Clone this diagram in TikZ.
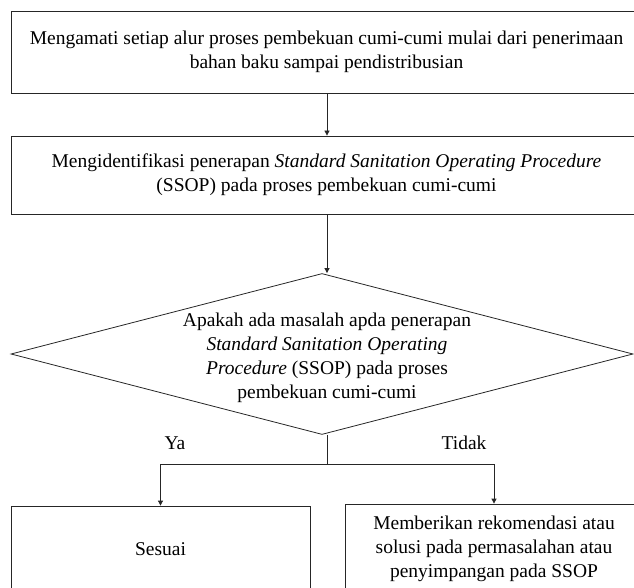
\documentclass[tikz,border=0pt]{standalone}
\usepackage{fontspec}
\setmainfont{Liberation Serif}
\usetikzlibrary{shapes.geometric,arrows.meta,calc}
\begin{document}
\begin{tikzpicture}[x=1pt,y=1pt,
  txt/.style={font=\fontsize{19.5}{24}\selectfont},
  box/.style={txt, draw=black!85, line width=0.8pt, align=center, inner sep=0pt},
  ln/.style={draw=black!85, line width=0.8pt},
  arr/.style={ln, -{Triangle[length=5pt,width=5pt]}},
  lbl/.style={txt, inner sep=0pt, align=center}]
\useasboundingbox (0,0) rectangle (634,587);
\clip (0,0) rectangle (634,587);
\coordinate (col) at (327,0);
\node[box, minimum width=631pt, minimum height=82pt] (b1) at (326.5,535)
  {Mengamati setiap alur proses pembekuan cumi-cumi mulai dari penerimaan\\bahan baku sampai pendistribusian};
\node[box, minimum width=631pt, minimum height=78pt] (b2) at (326.5,412)
  {Mengidentifikasi penerapan \textit{Standard Sanitation Operating Procedure}\\(SSOP) pada proses pembekuan cumi-cumi};
\node[diamond, draw=black!85, line width=0.8pt, minimum width=622pt, minimum height=161pt, inner sep=0pt] (d) at (322,233) {};
\node[lbl] (dt) at (327,229)
  {Apakah ada masalah apda penerapan\\\textit{Standard Sanitation Operating}\\\textit{Procedure} (SSOP) pada proses\\pembekuan cumi-cumi};
\node[box, minimum width=299pt, minimum height=86pt] (b3) at (160.5,38) {Sesuai};
\node[box, minimum width=298pt, minimum height=90pt] (b4) at (494,38)
  {Memberikan rekomendasi atau\\solusi pada permasalahan atau\\penyimpangan pada SSOP};
\coordinate (j) at (327,123);
\draw[arr] (b1.south -| col) -- (b2.north -| col);
\draw[arr] (b2.south -| col) -- (d.north -| col);
\draw[ln] (d.south -| col) -- (j);
\draw[ln] (b3.north |- j) -- (b4.north |- j);
\draw[arr] (b3.north |- j) -- (b3.north);
\draw[arr] (b4.north |- j) -- (b4.north);
\node[lbl] (ya) at (175,144) {Ya};
\node[lbl] (tidak) at (464,144) {Tidak};
\end{tikzpicture}
\end{document}
